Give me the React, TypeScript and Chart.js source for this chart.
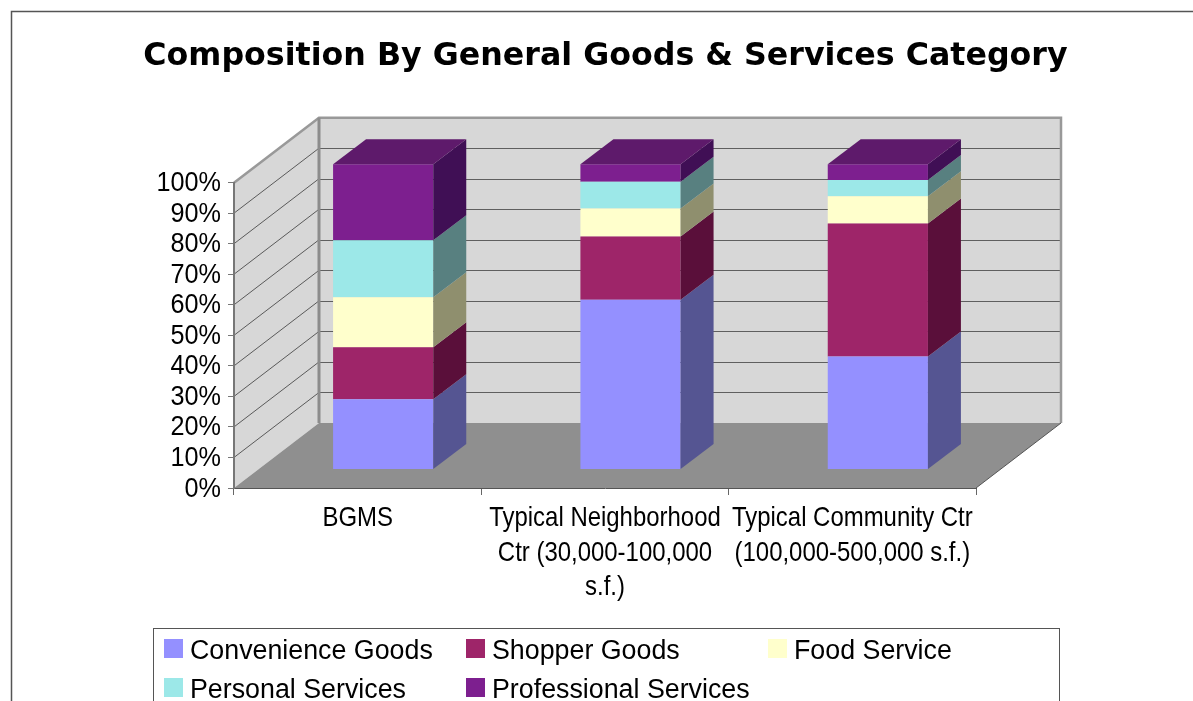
import React, { useEffect, useRef } from "react";
import { Chart, registerables } from "chart.js";

Chart.register(...registerables);

const chartTitle = "Composition By General Goods & Services Category";
const categories = [
  "BGMS",
  ["Typical Neighborhood", "Ctr (30,000-100,000", "s.f.)"],
  ["Typical Community Ctr", "(100,000-500,000 s.f.)"],
];
const convenienceGoods = [23, 55.6, 37];
const shopperGoods = [17, 20.7, 43.6];
const foodService = [16.4, 9.2, 8.9];
const personalServices = [18.7, 8.7, 5.3];
const professionalServices = [24.9, 5.8, 5.2];

const frontColors = ["#9490FF", "#9E2569", "#FFFFCC", "#9CE8E8", "#7D1F8F"];
const sideColors = ["#555592", "#5A0F3A", "#8F8F6E", "#588080", "#400F55"];
const topColor = "#5E1A6B";

// Projection of the 3D box: the bars sit part-way into the floor's depth.
const WALL_DX = 85;
const WALL_DY = -65;
const BAR_DX = 25.5;
const BAR_DY = -18.5;
const BAR_DEPTH_X = 33;
const BAR_DEPTH_Y = -25;

const polygon = (ctx: CanvasRenderingContext2D, pts: number[][], fill: string) => {
  ctx.beginPath();
  pts.forEach(([x, y], i) => (i ? ctx.lineTo(x, y) : ctx.moveTo(x, y)));
  ctx.closePath();
  ctx.fillStyle = fill;
  ctx.fill();
};

const segment = (
  ctx: CanvasRenderingContext2D,
  pts: number[][],
  color: string,
  width: number
) => {
  ctx.beginPath();
  pts.forEach(([x, y], i) => (i ? ctx.lineTo(x, y) : ctx.moveTo(x, y)));
  ctx.strokeStyle = color;
  ctx.lineWidth = width;
  ctx.stroke();
};

// Axis text is horizontally squeezed, so it is painted here with a scaled context.
const squeezedText = (
  ctx: CanvasRenderingContext2D,
  text: string,
  x: number,
  y: number,
  squeeze: number,
  align: CanvasTextAlign
) => {
  ctx.save();
  ctx.translate(x, y);
  ctx.scale(squeeze, 1);
  ctx.textAlign = align;
  ctx.textBaseline = "alphabetic";
  ctx.fillStyle = "#000000";
  ctx.font = '28px "Liberation Sans"';
  ctx.fillText(text, 0, 0);
  ctx.restore();
};

// Page frame, side wall, back wall, floor and the wall gridlines.
const roomPlugin = {
  id: "room",
  afterLayout(chart: any) {
    // The heading is centred over the axis span, not over the whole canvas.
    chart.titleBlock.left = 18;
    chart.titleBlock.right = chart.width;
  },
  beforeDraw(chart: any) {
    const { ctx, chartArea } = chart;
    const { left, right, top, bottom } = chartArea;
    ctx.save();
    ctx.fillStyle = "#FFFFFF";
    ctx.fillRect(0, 0, chart.width, chart.height);
    segment(ctx, [[11.5, chart.height], [11.5, 11.5], [chart.width, 11.5]], "#555555", 1.5);

    const bl = left + WALL_DX;
    const br = right + WALL_DX;
    const bt = top + WALL_DY;
    const bb = bottom + WALL_DY;
    polygon(ctx, [[left, top], [bl, bt], [bl, bb], [left, bottom]], "#D7D7D7");
    polygon(ctx, [[bl, bt], [br, bt], [br, bb], [bl, bb]], "#D7D7D7");
    polygon(ctx, [[left, bottom], [bl, bb], [br, bb], [right, bottom]], "#8F8F8F");

    const yScale = chart.scales.y;
    yScale.ticks.forEach((t: any) => {
      if (t.value === 0 || t.value === 100) return;
      const y = yScale.getPixelForValue(t.value);
      const back = Math.round(y + WALL_DY) + 0.5;
      segment(ctx, [[left, y], [bl, y + WALL_DY]], "#5A5A5A", 1);
      segment(ctx, [[bl, back], [br, back]], "#5F5F5F", 1);
    });

    segment(ctx, [[left, top], [bl, bt], [br, bt], [br, bb]], "#999999", 2.5);
    segment(ctx, [[bl, bt], [bl, bb]], "#8C8C8C", 3);
    segment(ctx, [[br, bb], [right, bottom]], "#555555", 1);
    ctx.restore();
  },
};

// Shifts the bar fronts back from the axis plane, then adds side and top faces.
const boxPlugin = {
  id: "box",
  beforeDatasetsDraw(chart: any) {
    chart.ctx.save();
    chart.ctx.translate(BAR_DX, BAR_DY);
  },
  afterDatasetsDraw(chart: any) {
    const { ctx } = chart;
    const count = chart.data.datasets.length;
    for (let d = 0; d < count; d++) {
      chart.getDatasetMeta(d).data.forEach((bar: any) => {
        const xr = bar.x + bar.width / 2;
        const xl = bar.x - bar.width / 2;
        polygon(
          ctx,
          [
            [xr, bar.y],
            [xr + BAR_DEPTH_X, bar.y + BAR_DEPTH_Y],
            [xr + BAR_DEPTH_X, bar.base + BAR_DEPTH_Y],
            [xr, bar.base],
          ],
          sideColors[d]
        );
        if (d === count - 1) {
          polygon(
            ctx,
            [
              [xl, bar.y],
              [xl + BAR_DEPTH_X, bar.y + BAR_DEPTH_Y],
              [xr + BAR_DEPTH_X, bar.y + BAR_DEPTH_Y],
              [xr, bar.y],
            ],
            topColor
          );
        }
      });
    }
    ctx.restore();
  },
};

// Axis labels, placed from the scales' own tick positions.
const axisTextPlugin = {
  id: "axisText",
  afterDraw(chart: any) {
    const { ctx } = chart;
    const { x: xScale, y: yScale } = chart.scales;
    yScale.ticks.forEach((t: any) => {
      squeezedText(ctx, t.label, 221, yScale.getPixelForValue(t.value) + 8.5, 0.9, "right");
    });
    xScale.ticks.forEach((t: any, i: number) => {
      const lines = Array.isArray(t.label) ? t.label : [t.label];
      lines.forEach((line: string, n: number) => {
        squeezedText(ctx, line, xScale.getPixelForTick(i), 525.7 + n * 34.8, 0.855, "center");
      });
    });
  },
};

// Boxed three-column key, running off the bottom of the canvas.
const keyPlugin = {
  id: "key",
  afterDraw(chart: any) {
    const { ctx } = chart;
    ctx.save();
    ctx.strokeStyle = "#555555";
    ctx.lineWidth = 1;
    ctx.strokeRect(153.5, 628.5, 906, 100);
    const columns = [164, 466, 768];
    const rows = [639, 678];
    ctx.font = '26.8px "Liberation Sans"';
    ctx.textBaseline = "alphabetic";
    ctx.textAlign = "left";
    chart.data.datasets.forEach((ds: any, i: number) => {
      const x = columns[i % 3];
      const y = rows[Math.floor(i / 3)];
      ctx.fillStyle = ds.backgroundColor;
      ctx.fillRect(x, y, 19, 19);
      ctx.fillStyle = "#000000";
      ctx.fillText(ds.label, x + 26, y + 20);
    });
    ctx.restore();
  },
};

const seriesFrom = (label: string, data: number[], i: number) => ({
  label,
  data,
  backgroundColor: frontColors[i],
  clip: false as const,
  barPercentage: 0.405,
  categoryPercentage: 1,
});

export default function App() {
  const canvasRef = useRef<HTMLCanvasElement>(null);

  useEffect(() => {
    const chart = new Chart(canvasRef.current!, {
      type: "bar",
      data: {
        labels: categories as any,
        datasets: [
          seriesFrom("Convenience Goods", convenienceGoods, 0),
          seriesFrom("Shopper Goods", shopperGoods, 1),
          seriesFrom("Food Service", foodService, 2),
          seriesFrom("Personal Services", personalServices, 3),
          seriesFrom("Professional Services", professionalServices, 4),
        ],
      },
      plugins: [roomPlugin, boxPlugin, axisTextPlugin, keyPlugin],
      options: {
        responsive: false,
        animation: false,
        layout: { padding: { left: 0, top: 10, right: 217, bottom: 113 } },
        plugins: {
          legend: { display: false },
          tooltip: { enabled: false },
          title: {
            display: true,
            text: chartTitle,
            color: "#000000",
            font: { family: '"DejaVu Sans"', size: 31.7, weight: "bold", lineHeight: 1.2 },
            padding: { top: 28, bottom: 106.6 },
          },
        },
        scales: {
          x: {
            stacked: true,
            afterFit: (s: any) => {
              s.height = 100;
            },
            border: { color: "#555555", width: 1 },
            grid: {
              offset: true,
              drawOnChartArea: false,
              drawTicks: true,
              tickLength: 7,
              color: "#666666",
            },
            ticks: { display: false, maxRotation: 0, autoSkip: false },
          },
          y: {
            stacked: true,
            min: 0,
            max: 100,
            afterFit: (s: any) => {
              s.width = 234;
            },
            border: { color: "#777777", width: 2 },
            grid: { drawOnChartArea: false, drawTicks: true, tickLength: 6, color: "#777777" },
            ticks: {
              display: false,
              autoSkip: false,
              stepSize: 10,
              callback: (v: any) => `${v}%`,
            },
          },
        },
      },
    } as any);
    return () => chart.destroy();
  }, []);

  return (
    <div style={{ position: "fixed", left: 0, top: 0, width: 1193, height: 701, overflow: "hidden" }}>
      <canvas ref={canvasRef} width={1193} height={701} style={{ display: "block" }} />
    </div>
  );
}
